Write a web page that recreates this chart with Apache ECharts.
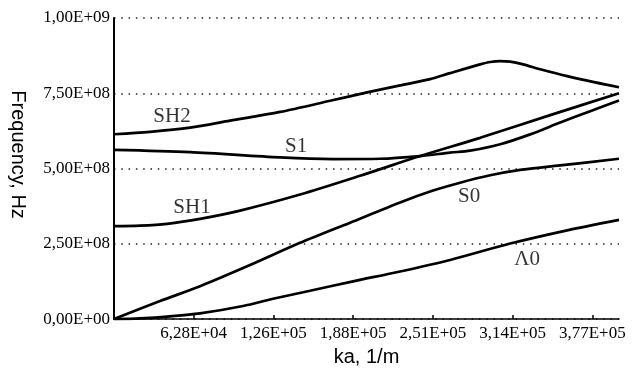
<!DOCTYPE html>
<html><head><meta charset="utf-8">
<script src="https://cdn.jsdelivr.net/npm/echarts@6/dist/echarts.min.js"></script>
<style>html,body{margin:0;padding:0;background:#fff}#c{width:634px;height:372px}</style>
</head><body><div id="c"></div>
<script>
// axis ticks
const xTickValues = [62832, 125664, 188496, 251327, 314159, 376991];
const yTickValues = [0, 2.5e8, 5e8, 7.5e8, 1e9];

// dispersion curves (x: ka, 1/m ; y: frequency, Hz)
const sh2X = [0, 28380, 59920, 91460, 130880, 170300, 199480, 225500, 249150, 264920, 288570, 296460, 304340, 312230, 321690, 335880, 357160, 379240, 398000];
const sh2Y = [614e6, 622e6, 636e6, 659e6, 688e6, 725e6, 753e6, 776e6, 797e6, 817e6, 846e6, 854e6, 857e6, 855e6, 847e6, 830e6, 807e6, 786e6, 770e6];

const s1X = [0, 59920, 130880, 172670, 209730, 241270, 264920, 280690, 304340, 327990, 351650, 375300, 398000];
const s1Y = [562e6, 554.5e6, 537e6, 531.6e6, 532.6e6, 541.4e6, 552.9e6, 559.5e6, 580.7e6, 613.5e6, 652.8e6, 690.5e6, 726e6];

const sh1X = [0, 20500, 41790, 67810, 99350, 146650, 193950, 241270, 288570, 343760, 398000];
const sh1Y = [309e6, 310.5e6, 316.4e6, 332.8e6, 360.3e6, 413.7e6, 475.9e6, 541.4e6, 602e6, 677.4e6, 750e6];

const s0X = [0, 36270, 67810, 107230, 146650, 186070, 225500, 251520, 272800, 296460, 320110, 351650, 398000];
const s0Y = [0, 59.9e6, 109.1e6, 179.5e6, 253.2e6, 320.3e6, 387.5e6, 426.8e6, 453e6, 477.6e6, 495.6e6, 510.3e6, 532.6e6];

const a0X = [0, 20500, 44150, 67810, 101710, 125360, 154540, 188440, 225500, 264920, 312230, 357160, 398000];
const a0Y = [0, 2.6e6, 9.2e6, 19e6, 43.6e6, 67.5e6, 94.3e6, 125.5e6, 158.2e6, 196.5e6, 250.9e6, 294.8e6, 329.5e6];

// curve annotations
const labelNames = ['SH2', 'S1', 'SH1', 'S0', 'Λ0'];
const labelX = [45730, 143500, 61500, 279900, 325600];
const labelY = [672.5e6, 574.2e6, 371.1e6, 407.1e6, 197.5e6];

function sci(v) {
  if (v === 0) return '0,00E+00';
  const s = v.toExponential(2);
  const [m, e] = s.split('e');
  const n = parseInt(e, 10);
  const sign = n < 0 ? '-' : '+';
  const ab = Math.abs(n);
  return m.replace('.', ',') + 'E' + sign + (ab < 10 ? '0' + ab : '' + ab);
}
function zip(xs, ys) { return xs.map((x, i) => [x, ys[i]]); }

const serif = 'Liberation Serif';
const lineStyle = { color: '#000', width: 2.7 };
function curve(name, xs, ys) {
  return { name, type: 'line', data: zip(xs, ys), smooth: 0.3, showSymbol: false, symbol: 'none',
    lineStyle, silent: true, z: 3 };
}

const chart = echarts.init(document.getElementById('c'), null, { renderer: 'canvas' });
chart.setOption({
  animation: false,
  backgroundColor: '#fff',
  grid: { left: 114, right: 15, top: 18, bottom: 49, containLabel: false },
  xAxis: {
    type: 'value', min: 0, max: 398000,
    name: 'ka, 1/m', nameLocation: 'middle', nameGap: 24,
    nameTextStyle: { fontFamily: 'Liberation Sans', fontSize: 20, color: '#000' },
    axisLine: { show: true, onZero: false, lineStyle: { color: '#000', width: 1.5 } },
    axisTick: { show: true, inside: true, length: 4, customValues: xTickValues, lineStyle: { color: '#000', width: 1.5 } },
    axisLabel: { customValues: xTickValues, formatter: v => sci(v), fontFamily: serif, fontSize: 17, color: '#000', margin: 6 },
    splitLine: { show: false }
  },
  yAxis: {
    type: 'value', min: 0, max: 1e9, interval: 2.5e8,
    name: 'Frequency, Hz', nameLocation: 'middle', nameGap: 86, nameRotate: -90,
    nameTextStyle: { fontFamily: 'Liberation Sans', fontSize: 20, color: '#000', padding: [0, 28, 0, 0] },
    axisLine: { show: true, lineStyle: { color: '#000', width: 2 } },
    axisTick: { show: false },
    axisLabel: { formatter: v => sci(v), fontFamily: serif, fontSize: 17, color: '#000', margin: 4 },
    splitLine: { show: true, lineStyle: { color: '#222', width: 1.5, type: [1.5, 5.8] } }
  },
  series: [
    curve('SH2', sh2X, sh2Y),
    curve('S1', s1X, s1Y),
    curve('SH1', sh1X, sh1Y),
    curve('S0', s0X, s0Y),
    curve('A0', a0X, a0Y),
    {
      type: 'scatter', symbolSize: 0, silent: true, z: 4,
      data: labelNames.map((n, i) => [labelX[i], labelY[i], n]),
      label: { show: true, position: 'inside', formatter: p => p.data[2], fontFamily: serif, fontSize: 21, color: '#000' }
    }
  ]
});
</script></body></html>
